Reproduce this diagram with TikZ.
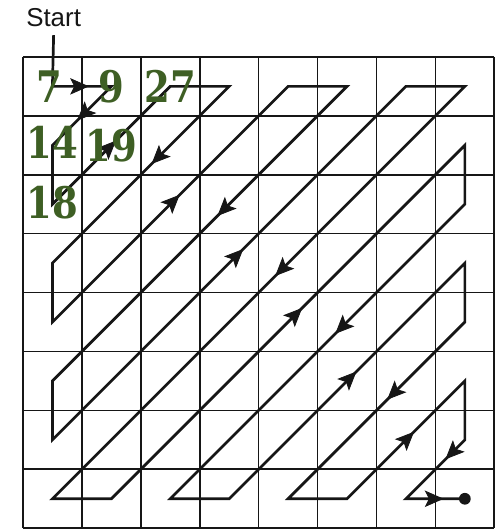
\documentclass[tikz,border=0pt]{standalone}
\usepackage{fontspec}
\setsansfont{Liberation Sans}
\newfontfamily\numfont[FakeStretch=0.85]{DejaVu Serif}
\usetikzlibrary{arrows.meta,decorations.markings}
\definecolor{ink}{HTML}{161616}
\definecolor{moss}{HTML}{3E5F24}
\newcommand{\Cells}{8}
\newcommand{\LastCell}{7}

\begin{document}
\begin{tikzpicture}[ink,
    cellline/.style={draw=ink, line width=0.8pt},
    scan/.style={draw=ink, line width=1.3pt, line join=miter},
    flow/.style={postaction={decorate}, decoration={markings, mark=at position #1 with {\arrow{Stealth[length=3.2mm, width=2.8mm, inset=0.7mm]}}}},
    num/.style={text=moss, font=\numfont\bfseries\fontsize{21}{21}\selectfont, inner sep=0pt},
  ]
\useasboundingbox (-0.39,0.966) rectangle (8.0,-8.03);

% --- Grid ---------------------------------------------------------------------------
\foreach \i in {0,...,\Cells} {
  \draw[cellline] (\i,0) -- (\i,-\Cells);
  \draw[cellline] (0,-\i) -- (\Cells,-\i);
}

% --- Cell centres: c<col><row>, row 0 at the top -----------------------------------
\foreach \c in {0,...,\LastCell}
  \foreach \r in {0,...,\LastCell}
    \coordinate (c\c\r) at (\c+0.5,-\r-0.5);

\node[font=\sffamily\fontsize{12.5}{13}\selectfont, inner sep=4pt, anchor=south] (start) at (0.52,0.37) {Start};

% --- Zigzag scan --------------------------------------------------------------------
\draw[scan] (start.south) -- (c00) -- (c10) -- (c01) -- (c02) -- (c20) -- (c30) -- (c03)
  -- (c04) -- (c40) -- (c50) -- (c05) -- (c06) -- (c60) -- (c70) -- (c07) -- (c17)
  -- (c71) -- (c72) -- (c27) -- (c37) -- (c73) -- (c74) -- (c47) -- (c57) -- (c75)
  -- (c76) -- (c67) -- (c77);
\fill (c77) circle (0.1);

% arrow heads along the way
\path[flow=0.62] (c00) -- (c10);
\path[flow=0.58] (c10) -- (c01);
\path[flow=0.54] (c02) -- (c20);
\path[flow=0.44] (c30) -- (c03);
\path[flow=0.54] (c04) -- (c40);
\path[flow=0.44] (c50) -- (c05);
\path[flow=0.54] (c06) -- (c60);
\path[flow=0.46] (c70) -- (c07);
\path[flow=0.54] (c17) -- (c71);
\path[flow=0.44] (c72) -- (c27);
\path[flow=0.54] (c37) -- (c73);
\path[flow=0.44] (c74) -- (c47);
\path[flow=0.57] (c57) -- (c75);
\path[flow=0.33] (c76) -- (c67);
\path[flow=0.64] (c67) -- (c77);

% --- Values -------------------------------------------------------------------------
\node[num] (v00) at ([xshift=-0.06cm]c00) {7};
\node[num] (v10) at (c10) {9};
\node[num] (v20) at (c20) {27};
\node[num] (v01) at ([yshift=0.05cm]c01) {14};
\node[num] (v11) at (c11) {19};
\node[num] (v02) at ([yshift=0.03cm]c02) {18};
\end{tikzpicture}
\end{document}
